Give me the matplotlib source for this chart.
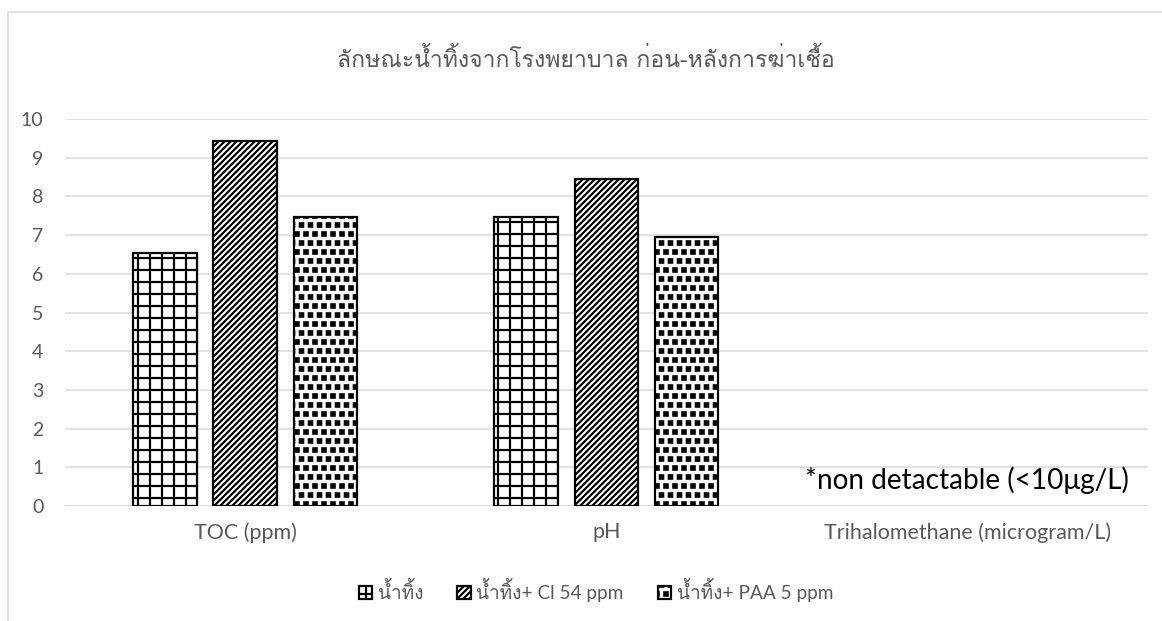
import numpy as np
import matplotlib
matplotlib.use("Agg")
import matplotlib.pyplot as plt
from matplotlib import font_manager as fm
from matplotlib.ft2font import FT2Font
from matplotlib.path import Path
from matplotlib.patches import Rectangle
import matplotlib.hatch as mhatch

# ---------------- data ----------------
categories = ["TOC (ppm)", "pH", "Trihalomethane (microgram/L)"]
series_names = ["น้ำทิ้ง", "น้ำทิ้ง+ Cl 54 ppm", "น้ำทิ้ง+ PAA 5 ppm"]
raw_water = [6.55, 7.47, np.nan]
cl_treated = [9.42, 8.45, np.nan]
paa_treated = [7.47, 6.95, np.nan]
title_text = "ลักษณะน้ำทิ้งจากโรงพยาบาล ก่อน-หลังการฆ่าเชื้อ"
note_text = "*non detactable (<10μg/L)"
y_ticks = list(range(0, 11))

# ---------------- fonts ----------------
thai_family = None
for f in fm.fontManager.ttflist:
    try:
        cmap = FT2Font(f.fname).get_charmap()
    except Exception:
        continue
    if 0x0E01 in cmap and 0x0E49 in cmap:
        thai_family = f.name
        break
latin = "Lato"
fam_thai = [thai_family, latin, "DejaVu Sans"] if thai_family else [latin, "DejaVu Sans"]
fam_mixed = [latin, thai_family, "DejaVu Sans"] if thai_family else [latin, "DejaVu Sans"]
fam_latin = [latin, "DejaVu Sans"]
plt.rcParams['font.family'] = fam_latin


# ---------------- custom square-dot hatch ----------------
class FilledSquares(mhatch.Shapes):
    size = 0.38
    filled = True

    def __init__(self, hatch, density):
        self.num_rows = hatch.count('.') * 8
        v = np.array([[0, 0], [1, 0], [1, 1], [0, 1], [0, 0]], dtype=float) - 0.5
        self.shape_vertices = v
        self.shape_codes = np.array([Path.MOVETO, Path.LINETO, Path.LINETO,
                                     Path.LINETO, Path.CLOSEPOLY], dtype=Path.code_type)
        super().__init__(hatch, density)


mhatch._hatch_types = [h for h in mhatch._hatch_types
                       if h is not mhatch.SmallFilledCircles] + [FilledSquares]

plt.rcParams['hatch.linewidth'] = 2.2
plt.rcParams['hatch.color'] = 'black'

DPI = 72
W, H = 1162, 621
fig = plt.figure(figsize=(W / DPI, H / DPI), dpi=DPI)

# outer chart border
fig.patches.append(Rectangle((8 / W, -0.05), 1.1, 1 - 12 / H + 0.05,
                             transform=fig.transFigure, fill=False,
                             edgecolor='#d9d9d9', linewidth=1.5))

ax_left, ax_right = 64.5 / W, 1148 / W
ax_bottom, ax_top = (H - 506) / H, (H - 119) / H
ax = fig.add_axes([ax_left, ax_bottom, ax_right - ax_left, ax_top - ax_bottom])

x = np.arange(len(categories))
width = 0.175
step = 0.222
hatches = ['+', '////', '.']
series = [raw_water, cl_treated, paa_treated]
handles = []
for i, (vals, hatch, name) in enumerate(zip(series, hatches, series_names)):
    b = ax.bar(x + (i - 1) * step, vals, width, facecolor='white', edgecolor='black',
               linewidth=2.2, hatch=hatch, label=name, zorder=3)
    handles.append(b)

ax.set_xlim(-0.5, 2.5)
ax.set_ylim(0, 10)
ax.set_yticks(y_ticks)
ax.set_xticks(x)
ax.set_xticklabels(categories)
for s in ax.spines.values():
    s.set_visible(False)
ax.grid(axis='y', color='#d9d9d9', linewidth=1.5, zorder=0)
ax.set_axisbelow(True)
ax.tick_params(axis='both', length=0, colors='#595959')
ax.tick_params(axis='y', pad=21, labelsize=19.5)
ax.tick_params(axis='x', pad=16, labelsize=21.5)
ax.axhline(0, color='#d9d9d9', linewidth=1.5, zorder=1)
ax.patch.set_alpha(0)

ax.text(2, 0.67, note_text, ha='center', va='center', fontsize=28, color='black',
        family=fam_latin)

fig.text(586 / W, 1 - 60 / H, title_text, ha='center', va='center', fontsize=23,
         color='#595959', family=fam_thai)

leg = fig.legend(handles=handles, labels=series_names, loc='center',
                 bbox_to_anchor=(596 / W, 1 - 590 / H), ncol=3, frameon=False,
                 prop=fm.FontProperties(family=fam_mixed, size=19),
                 handlelength=0.7, handleheight=0.7, handletextpad=0.3,
                 columnspacing=1.8, labelcolor='#595959')

fig.savefig("out.png", dpi=DPI)
